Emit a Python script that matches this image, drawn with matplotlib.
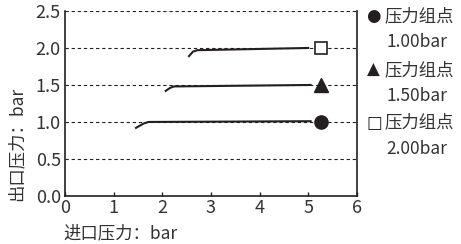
import matplotlib
matplotlib.use('Agg')
import matplotlib.pyplot as plt

plt.rcParams['font.family'] = ['Noto Sans CJK SC', 'DejaVu Sans']

# inlet / outlet pressure curves (bar)
in_100 = [1.46, 1.62, 1.72, 5.05]
out_100 = [0.92, 0.98, 1.00, 1.01]
in_150 = [2.07, 2.16, 2.24, 5.05]
out_150 = [1.42, 1.46, 1.48, 1.50]
in_200 = [2.55, 2.63, 2.72, 5.0]
out_200 = [1.89, 1.95, 1.97, 2.00]

set_x = 5.27
set_points = [1.0, 1.5, 2.0]
set_labels = ['1.00bar', '1.50bar', '2.00bar']
xticks = [0, 1, 2, 3, 4, 5, 6]
yticks = [0.0, 0.5, 1.0, 1.5, 2.0, 2.5]

col = '#231f20'
tcol = '#333333'

fig = plt.figure(figsize=(4.61, 2.44), dpi=100)
ax = fig.add_axes([0.141, 0.197, 0.633, 0.758])

for y in [0.5, 1.0, 1.5, 2.0, 2.5]:
    ax.axhline(y, color=col, lw=0.8, ls=(0, (3, 2.5)), zorder=1)

ax.plot(in_100, out_100, color=col, lw=1.5, zorder=2)
ax.plot(in_150, out_150, color=col, lw=1.5, zorder=2)
ax.plot(in_200, out_200, color=col, lw=1.5, zorder=2)

ax.plot([set_x], [set_points[0]], 'o', color=col, ms=9.5, zorder=3)
ax.plot([set_x], [set_points[1]], '^', color=col, ms=9.5, zorder=3)
ax.plot([set_x], [set_points[2]], 's', mfc='white', mec=col, mew=1.2, ms=8, zorder=3)

ax.set_xlim(0, 6)
ax.set_ylim(0, 2.5)
ax.set_xticks(xticks)
ax.set_yticks(yticks)
ax.set_yticklabels([f'{v:.1f}' for v in yticks])
ax.tick_params(axis='x', direction='in', length=3, width=1, colors=col, labelcolor=tcol, labelsize=13, pad=2)
ax.tick_params(axis='y', length=0, labelcolor=tcol, labelsize=13, pad=3)
for s in ['left', 'bottom', 'right']:
    ax.spines[s].set_color(col)
    ax.spines[s].set_linewidth(1.2)
ax.spines['top'].set_visible(False)

fig.text(0.137, 0.045, '进口压力：bar', fontsize=12.5, color=tcol, ha='left', va='center')
fig.text(0.035, 0.41, '出口压力：bar', fontsize=12.5, color=tcol, rotation=90, ha='center', va='center')

glyphs = ['●', '▲', '□']
ys = [0.934, 0.713, 0.497]
for g, lab, y in zip(glyphs, set_labels, ys):
    fig.text(0.795, y, g, fontsize=12, color=col, ha='left', va='center',
             family=['DejaVu Sans'])
    fig.text(0.835, y, '压力组点', fontsize=12.5, color=tcol, ha='left', va='center')
    fig.text(0.838, y - 0.108, lab, fontsize=12.5, color=tcol, ha='left', va='center')

fig.savefig('out.png', dpi=100)
